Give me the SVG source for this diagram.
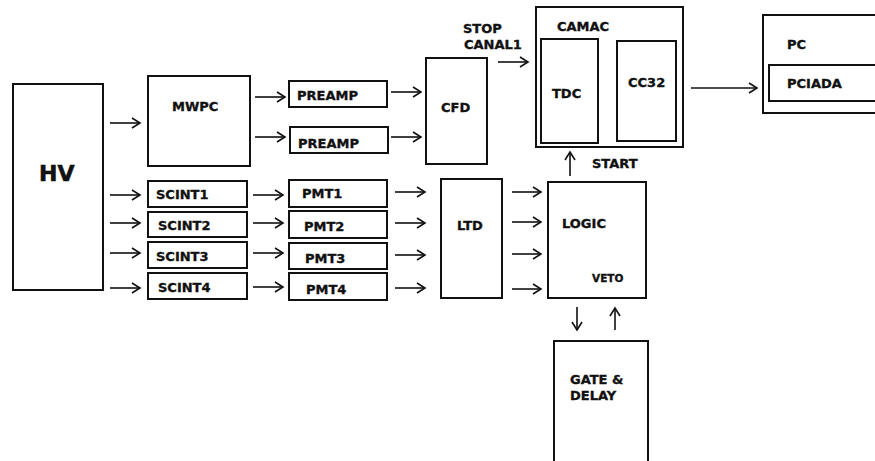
<svg xmlns="http://www.w3.org/2000/svg" width="875" height="461" viewBox="0 0 875 461">
<defs>
<marker id="ah" markerUnits="userSpaceOnUse" markerWidth="14" markerHeight="14" refX="10" refY="6" orient="auto">
<path d="M2,1 L10,6 L2,11" fill="none" stroke="#111" stroke-width="1.6"/>
</marker>
<style>
.b{fill:#fff;stroke:#111;stroke-width:2}
.t{font-family:"DejaVu Sans","Liberation Sans",sans-serif;font-weight:bold;font-size:13px;fill:#111;stroke:#111;stroke-width:0.35}
.s{font-size:10.5px}
.h{font-size:22px;stroke-width:0.6}
.c line{stroke:#111;stroke-width:1.6;marker-end:url(#ah)}
</style>
</defs>
<rect width="875" height="461" fill="#fff"/>
<g id="hv"><rect class="b" x="13" y="84" width="90" height="206"/><text class="t h" x="39" y="181">HV</text></g>
<g id="mwpc"><rect class="b" x="148" y="76" width="102" height="90"/><text class="t" x="172" y="111">MWPC</text></g>
<g id="scint1"><rect class="b" x="148" y="181" width="99" height="26"/><text class="t" x="156" y="199">SCINT1</text></g>
<g id="scint2"><rect class="b" x="148" y="212" width="99" height="25"/><text class="t" x="158" y="230">SCINT2</text></g>
<g id="scint3"><rect class="b" x="148" y="242" width="99" height="26"/><text class="t" x="156" y="261">SCINT3</text></g>
<g id="scint4"><rect class="b" x="148" y="273" width="99" height="26"/><text class="t" x="158" y="292">SCINT4</text></g>
<g id="preamp1"><rect class="b" x="289" y="81" width="98" height="26"/><text class="t" x="297" y="100">PREAMP</text></g>
<g id="preamp2"><rect class="b" x="290" y="127" width="98" height="26"/><text class="t" x="298" y="148">PREAMP</text></g>
<g id="pmt1"><rect class="b" x="289" y="180" width="98" height="27"/><text class="t" x="302" y="198">PMT1</text></g>
<g id="pmt2"><rect class="b" x="289" y="211" width="98" height="27"/><text class="t" x="304" y="231">PMT2</text></g>
<g id="pmt3"><rect class="b" x="289" y="243" width="98" height="26"/><text class="t" x="305" y="263">PMT3</text></g>
<g id="pmt4"><rect class="b" x="289" y="273" width="98" height="27"/><text class="t" x="306" y="294">PMT4</text></g>
<g id="cfd"><rect class="b" x="426" y="58" width="61" height="106"/><text class="t" x="441" y="112">CFD</text></g>
<g id="ltd"><rect class="b" x="441" y="179" width="61" height="119"/><text class="t" x="457" y="230">LTD</text></g>
<g id="logic"><rect class="b" x="548" y="182" width="98" height="116"/><text class="t" x="562" y="228">LOGIC</text><text class="t s" x="592" y="282">VETO</text></g>
<g id="gate"><rect class="b" x="554" y="341" width="94" height="122"/><text class="t" x="570" y="384">GATE &amp;</text><text class="t" x="570" y="400">DELAY</text></g>
<g id="camac"><rect class="b" x="536" y="7" width="147" height="140"/><text class="t" x="557" y="31">CAMAC</text>
<rect class="b" x="541" y="39" width="57" height="104"/><text class="t" x="552" y="98">TDC</text>
<rect class="b" x="617" y="41" width="59" height="100"/><text class="t" x="628" y="87">CC32</text></g>
<g id="pc"><rect class="b" x="763" y="15" width="120" height="98"/><text class="t" x="787" y="49">PC</text>
<rect class="b" x="769" y="65" width="114" height="36"/><text class="t" x="787" y="88">PCIADA</text></g>
<g id="labels"><text class="t" x="463" y="33">STOP</text><text class="t" x="464" y="49">CANAL1</text><text class="t" x="592" y="168">START</text></g>
<g class="c" id="connectors">
<line x1="110" y1="123" x2="140" y2="123"/>
<line x1="110" y1="195" x2="140" y2="195"/>
<line x1="110" y1="223" x2="140" y2="223"/>
<line x1="110" y1="253" x2="140" y2="253"/>
<line x1="110" y1="288" x2="140" y2="288"/>
<line x1="255" y1="97" x2="285" y2="97"/>
<line x1="255" y1="137" x2="285" y2="137"/>
<line x1="253" y1="195" x2="283" y2="195"/>
<line x1="253" y1="223" x2="283" y2="223"/>
<line x1="253" y1="253" x2="283" y2="253"/>
<line x1="253" y1="287" x2="283" y2="287"/>
<line x1="391" y1="92" x2="421" y2="92"/>
<line x1="391" y1="137" x2="421" y2="137"/>
<line x1="395" y1="192" x2="425" y2="192"/>
<line x1="395" y1="223" x2="425" y2="223"/>
<line x1="395" y1="255" x2="425" y2="255"/>
<line x1="395" y1="288" x2="425" y2="288"/>
<line x1="512" y1="192" x2="541" y2="192"/>
<line x1="512" y1="222" x2="541" y2="222"/>
<line x1="512" y1="254" x2="541" y2="254"/>
<line x1="512" y1="289" x2="541" y2="289"/>
<line x1="498" y1="62" x2="528" y2="62"/>
<line x1="691" y1="88" x2="757" y2="88"/>
<line x1="570" y1="176" x2="570" y2="152"/>
<line x1="577" y1="307" x2="577" y2="330"/>
<line x1="615" y1="330" x2="615" y2="308"/>
</g>
</svg>
